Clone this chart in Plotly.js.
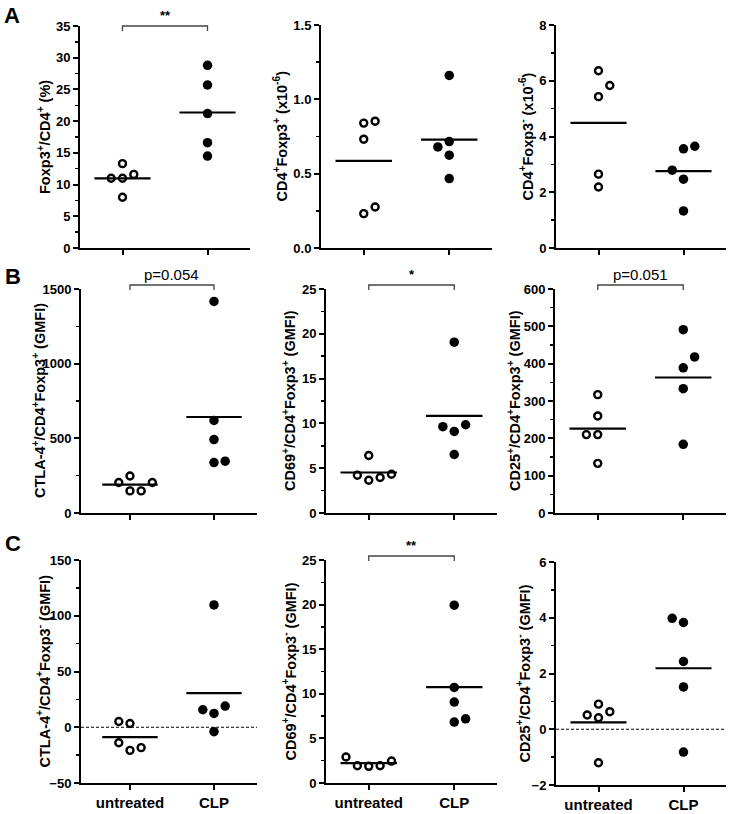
<!DOCTYPE html>
<html>
<head>
<meta charset="utf-8">
<script src="https://cdn.plot.ly/plotly-3.0.1.min.js"></script>
<style>html,body{margin:0;padding:0;background:#fff;}#chart{width:730px;height:814px;}</style>
</head>
<body>
<div id="chart"></div>
<script>
// ---- data ----
const groups = ["untreated", "CLP"];

const a1Untreated = [13.3, 11.0, 11.0, 11.6, 8.0];
const a1UntreatedJit = [0, -1, 0, 1, 0];
const a1CLP = [28.8, 25.7, 21.2, 16.6, 14.5];
const a1CLPJit = [0, 0, 0, 0, 0];

const a2Untreated = [0.853, 0.84, 0.732, 0.276, 0.231];
const a2UntreatedJit = [1, 0, 0, 1, 0];
const a2CLP = [1.161, 0.716, 0.680, 0.624, 0.467];
const a2CLPJit = [0, 0, -1, 0, 0];

const a3Untreated = [6.36, 5.83, 5.43, 2.65, 2.19];
const a3UntreatedJit = [0, 1, 0, 0, 0];
const a3CLP = [3.65, 3.56, 2.79, 2.47, 1.33];
const a3CLPJit = [1, 0, -1, 0, 0];

const b1Untreated = [248, 204, 204, 148, 148];
const b1UntreatedJit = [0, -1, 2, 0, 1];
const b1CLP = [1417, 620, 492, 347, 338];
const b1CLPJit = [0, 0, 0, 1, 0];

const b2Untreated = [6.42, 4.33, 4.22, 3.96, 3.66];
const b2UntreatedJit = [0, 2, -1, 1, 0];
const b2CLP = [19.07, 9.85, 9.63, 9.10, 6.53];
const b2CLPJit = [0, 1, -1, 0, 0];

const b3Untreated = [317, 260, 210, 210, 133];
const b3UntreatedJit = [0, 0, -1, 0, 0];
const b3CLP = [491, 418, 389, 333, 184];
const b3CLPJit = [0, 1, 0, 0, 0];

const c1Untreated = [5.2, 3.4, -13.9, -18.3, -20.7];
const c1UntreatedJit = [-1, 0, -1, 1, 0];
const c1CLP = [109.7, 19.0, 15.7, 12.4, -4.0];
const c1CLPJit = [0, 1, -1, 0, 0];

const c2Untreated = [2.91, 2.46, 1.94, 1.94, 1.87];
const c2UntreatedJit = [-2, 2, -1, 1, 0];
const c2CLP = [19.93, 10.71, 9.07, 7.20, 6.83];
const c2CLPJit = [0, 0, 0, 1, 0];

const c3Untreated = [0.90, 0.63, 0.51, 0.41, -1.20];
const c3UntreatedJit = [0, 1, -1, 0, 0];
const c3CLP = [3.98, 3.83, 2.43, 1.52, -0.82];
const c3CLPJit = [-1, 0, 0, 0, 0];

const yTitles = [
  "Foxp3<sup>+</sup>/CD4<sup>+</sup> (%)",
  "CD4<sup>+</sup>Foxp3<sup>+</sup> (x10<sup>-6</sup>)",
  "CD4<sup>+</sup>Foxp3<sup>-</sup> (x10<sup>-6</sup>)",
  "CTLA-4<sup>+</sup>/CD4<sup>+</sup>Foxp3<sup>+</sup> (GMFI)",
  "CD69<sup>+</sup>/CD4<sup>+</sup>Foxp3<sup>+</sup> (GMFI)",
  "CD25<sup>+</sup>/CD4<sup>+</sup>Foxp3<sup>+</sup> (GMFI)",
  "CTLA-4<sup>+</sup>/CD4<sup>+</sup>Foxp3<sup>-</sup> (GMFI)",
  "CD69<sup>+</sup>/CD4<sup>+</sup>Foxp3<sup>-</sup> (GMFI)",
  "CD25<sup>+</sup>/CD4<sup>+</sup>Foxp3<sup>-</sup> (GMFI)"
];
const sigLabels = ["**", null, null, "p=0.054", "*", "p=0.051", null, "**", null];
const panelLetters = ["A", "B", "C"];

// ---- layout config (pixels) ----
const W = 730, H = 814;
const panels = [
  {u:a1Untreated, uj:a1UntreatedJit, c:a1CLP, cj:a1CLPJit, x:[80,250], y:[26,248], xr:[0.5,2.5], yr:[0,35], dt:5, mdt:2.5, tf:"d", zero:false, titleOff:36},
  {u:a2Untreated, uj:a2UntreatedJit, c:a2CLP, cj:a2CLPJit, x:[321,492], y:[25,248], xr:[0.5,2.5], yr:[0,1.5], dt:0.5, mdt:0.25, tf:".1f", zero:false, titleOff:41},
  {u:a3Untreated, uj:a3UntreatedJit, c:a3CLP, cj:a3CLPJit, x:[556,726], y:[25,248], xr:[0.5,2.5], yr:[0,8], dt:2, mdt:1, tf:"d", zero:false, titleOff:30},
  {u:b1Untreated, uj:b1UntreatedJit, c:b1CLP, cj:b1CLPJit, x:[81,257], y:[289,513], xr:[0.417,2.512], yr:[0,1500], dt:500, mdt:250, tf:"d", zero:false, titleOff:42},
  {u:b2Untreated, uj:b2UntreatedJit, c:b2CLP, cj:b2CLPJit, x:[326,497], y:[289,513], xr:[0.5,2.5], yr:[0,25], dt:5, mdt:2.5, tf:"d", zero:false, titleOff:37},
  {u:b3Untreated, uj:b3UntreatedJit, c:b3CLP, cj:b3CLPJit, x:[555,726], y:[289,513], xr:[0.5,2.5], yr:[0,600], dt:100, mdt:50, tf:"d", zero:false, titleOff:41},
  {u:c1Untreated, uj:c1UntreatedJit, c:c1CLP, cj:c1CLPJit, x:[81,257], y:[560,783], xr:[0.417,2.512], yr:[-50,150], dt:50, mdt:25, tf:"d", zero:true, titleOff:38},
  {u:c2Untreated, uj:c2UntreatedJit, c:c2CLP, cj:c2CLPJit, x:[326,497], y:[560,783], xr:[0.5,2.5], yr:[0,25], dt:5, mdt:2.5, tf:"d", zero:false, titleOff:37},
  {u:c3Untreated, uj:c3UntreatedJit, c:c3CLP, cj:c3CLPJit, x:[556,726], y:[562,785], xr:[0.5,2.5], yr:[-2,6], dt:2, mdt:1, tf:"d", zero:true, titleOff:33}
];
const JIT = 0.133;     // horizontal spread unit (category units)
const HALF = 0.33;     // mean line half-width
const px = v => v / W;
const py = v => 1 - v / H;
const mean = a => a.reduce((s, v) => s + v, 0) / a.length;
const FONT = "Arial, 'Liberation Sans', Helvetica, sans-serif";

const traces = [];
const layout = {
  width: W, height: H, margin: {l:0, r:0, t:0, b:0},
  paper_bgcolor: "#fff", plot_bgcolor: "rgba(0,0,0,0)",
  showlegend: false, font: {family: FONT, color: "#000"},
  shapes: [], annotations: []
};

panels.forEach((p, i) => {
  const n = i + 1;
  const xa = "x" + (n === 1 ? "" : n), ya = "y" + (n === 1 ? "" : n);
  const xkey = "xaxis" + (n === 1 ? "" : n), ykey = "yaxis" + (n === 1 ? "" : n);
  const row = Math.floor(i / 3);

  // points
  traces.push({
    type: "scatter", mode: "markers", xaxis: xa, yaxis: ya, cliponaxis: false,
    x: p.u.map((v, k) => 1 + p.uj[k] * JIT), y: p.u,
    marker: {symbol: "circle-open", size: 7, color: "#000", line: {width: 2.4, color: "#000"}},
    hoverinfo: "skip"
  });
  traces.push({
    type: "scatter", mode: "markers", xaxis: xa, yaxis: ya, cliponaxis: false,
    x: p.c.map((v, k) => 2 + p.cj[k] * JIT), y: p.c,
    marker: {symbol: "circle", size: 9.5, color: "#000"},
    hoverinfo: "skip"
  });
  // mean lines
  [p.u, p.c].forEach((arr, g) => {
    const m = mean(arr);
    traces.push({
      type: "scatter", mode: "lines", xaxis: xa, yaxis: ya, cliponaxis: false,
      x: [g + 1 - HALF, g + 1 + HALF], y: [m, m],
      line: {color: "#000", width: 2.2}, hoverinfo: "skip"
    });
  });

  layout[xkey] = {
    domain: [px(p.x[0]), px(p.x[1])], range: p.xr, anchor: ya,
    tickmode: "array", tickvals: [1, 2], ticktext: row === 2 ? groups.map(g => "<b>" + g + "</b>") : ["", ""],
    ticks: "outside", ticklen: 5, tickwidth: 2, tickcolor: "#000",
    showline: true, linecolor: "#000", linewidth: 2, showgrid: false, zeroline: false,
    tickfont: {family: FONT, size: 15, weight: "bold", color: "#000"}, fixedrange: true
  };
  layout[ykey] = {
    domain: [py(p.y[1]), py(p.y[0])], range: p.yr, anchor: xa,
    dtick: p.dt, tick0: 0, tickformat: p.tf,
    ticks: "outside", ticklen: 5, tickwidth: 2, tickcolor: "#000",
    minor: {dtick: p.mdt, tick0: 0, ticks: "outside", ticklen: 3, tickwidth: 1.5, tickcolor: "#000", showgrid: false},
    showline: true, linecolor: "#000", linewidth: 2, showgrid: false, zeroline: false,
    tickfont: {family: FONT, size: 13, weight: "bold", color: "#000"}, fixedrange: true
  };

  // y title
  layout.annotations.push({
    xref: "paper", yref: "paper", x: px(p.x[0] - p.titleOff), y: py((p.y[0] + p.y[1]) / 2),
    text: "<b>" + yTitles[i] + "</b>", textangle: -90, showarrow: false, xanchor: "center", yanchor: "middle",
    font: {family: FONT, size: 14.5, weight: "bold", color: "#000"}
  });

  // dashed zero line
  if (p.zero) {
    layout.shapes.push({
      type: "line", xref: xa + " domain", yref: ya, x0: 0, x1: 1, y0: 0, y1: 0,
      line: {color: "#000", width: 1, dash: "3px,2px"}
    });
  }

  // significance bracket
  if (sigLabels[i]) {
    const toPx = xv => p.x[0] + (xv - p.xr[0]) / (p.xr[1] - p.xr[0]) * (p.x[1] - p.x[0]);
    const xl = toPx(1), xr = toPx(2);
    const top = p.y[0] - (i === 0 ? 0 : 4);
    layout.shapes.push({
      type: "path", xref: "paper", yref: "paper",
      path: `M ${px(xl)} ${py(top + 5)} L ${px(xl)} ${py(top)} L ${px(xr)} ${py(top)} L ${px(xr)} ${py(top + 5)}`,
      line: {color: "#444", width: 1.3}
    });
    const isP = sigLabels[i].startsWith("p");
    layout.annotations.push({
      xref: "paper", yref: "paper", x: px((xl + xr) / 2), y: py(top - (isP ? 0 : 1)),
      text: isP ? sigLabels[i] : "<b>" + sigLabels[i] + "</b>", showarrow: false, xanchor: "center", yanchor: "bottom",
      font: {family: FONT, size: isP ? 15 : 13, color: "#000"}
    });
  }
});

// panel letters
[[12, 15], [13, 276], [13, 543]].forEach((pos, r) => {
  layout.annotations.push({
    xref: "paper", yref: "paper", x: px(pos[0]), y: py(pos[1]),
    text: "<b>" + panelLetters[r] + "</b>", showarrow: false, xanchor: "center", yanchor: "middle",
    font: {family: FONT, size: 22, weight: "bold", color: "#000"}
  });
});

Plotly.newPlot("chart", traces, layout, {staticPlot: true, displayModeBar: false});
</script>
</body>
</html>
